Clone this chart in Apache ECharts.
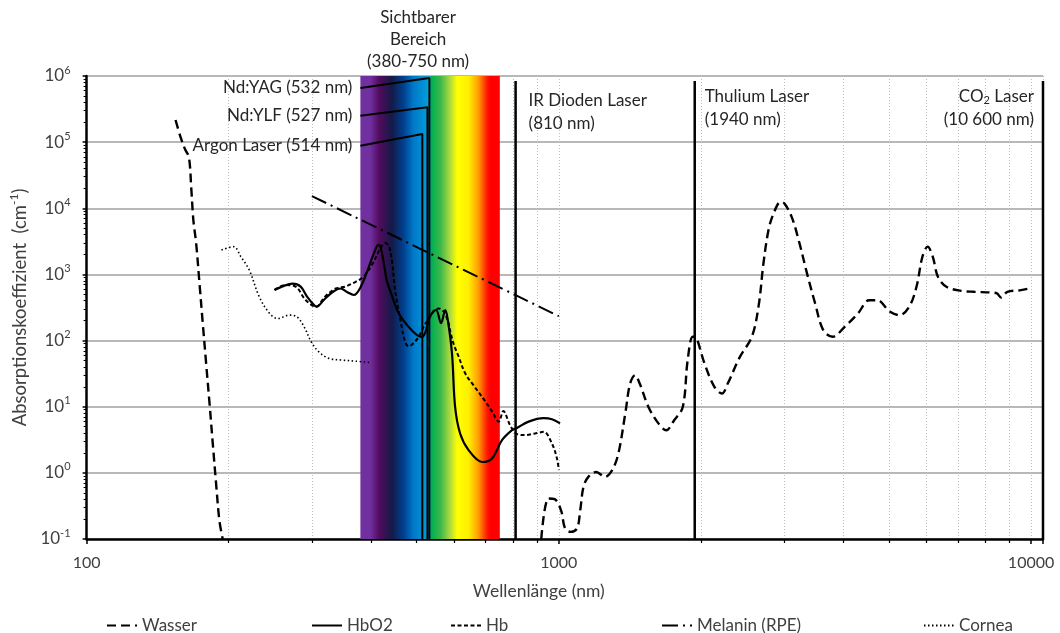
<!DOCTYPE html>
<html>
<head>
<meta charset="utf-8">
<script src="https://cdn.jsdelivr.net/npm/echarts@6/dist/echarts.min.js"></script>
<style>
  html, body { margin: 0; padding: 0; background: #ffffff; }
  #chart { width: 1060px; height: 633px; }
</style>
</head>
<body>
<div id="chart"></div>
<script>
// Absorptionsspektren: Wellenlänge in nm, Absorptionskoeffizient in 1/cm

// Wasser, UV-Ast
const wasserNm1 = [154.3, 158.4, 161.9, 164.7, 166.7, 168.3, 170.6, 173.4, 176.2, 179.1, 182.1, 185, 188, 191.1, 194.2];
const wasserAbs1 = [2.16e5, 1.15e5, 7.6e4, 5.96e4, 1.88e4, 6640, 2980, 738, 183, 45.5, 11.3, 2.8, 0.70, 0.19, 0.1];
// Wasser, IR-Ast
const wasserNm2 = [918, 951, 980, 1011, 1031, 1060, 1093, 1110, 1128, 1155, 1200, 1252, 1297, 1337, 1386, 1415, 1450, 1485, 1548, 1625,
  1689, 1755, 1830, 1874, 1920, 1945, 1965, 2035, 2135, 2215, 2280, 2418, 2563, 2650, 2710, 2780, 2850, 2950, 3005, 3112,
  3220, 3355, 3490, 3630, 3800, 4030, 4300, 4540, 4720, 5030, 5270, 5520, 5720, 5890, 6040, 6190, 6350, 6620, 7110, 7570,
  8230, 8470, 8640, 8910, 9520, 9900];
const wasserAbs2 = [0.1, 0.41, 0.4, 0.27, 0.145, 0.128, 0.145, 0.27, 0.62, 0.87, 1.03, 0.87, 1.1, 1.96, 8.85, 22, 30, 22, 9.9, 5.6,
  4.4, 6.25, 9.9, 50, 114, 114, 102, 45, 20, 15.8, 22.6, 56.7, 114, 340, 1400, 4700, 8350, 12500, 11800, 7420,
  3310, 1030, 363, 144, 114, 161, 257, 408, 408, 272, 242, 324, 650, 1870, 2630, 1870, 925, 650, 565, 546,
  533, 516, 449, 546, 578, 613];

const hbo2Nm = [250, 260, 273, 284, 293, 303, 307, 318, 332, 345, 356, 368, 381, 396, 406, 415, 419, 426, 432, 444,
  458, 481, 501, 514, 522, 530, 542, 550, 563, 575, 582, 594, 603, 618, 644, 688, 722, 758, 796, 812,
  863, 929, 967, 1006];
const hbo2Abs = [581, 660, 725, 655, 463, 345, 325, 411, 542, 613, 542, 489, 655, 1300, 2080, 2790, 2630, 1480, 823, 463,
  258, 160, 121, 114, 135, 204, 276, 290, 183, 290, 204, 63.8, 10, 3.93, 2.21, 1.46, 1.65, 3.13, 4.43, 4.7,
  5.95, 6.7, 6.45, 5.6];

const hbNm = [250, 264, 277, 291, 306, 320, 337, 353, 372, 386, 404, 419, 429, 437, 444, 450, 462, 473, 481, 494,
  505, 517, 539, 556, 570, 582, 590, 600, 612, 634, 660, 699, 722, 746, 763, 788, 812, 847, 890, 929,
  967, 991, 1000];
const hbAbs = [581, 692, 655, 411, 325, 463, 613, 655, 780, 925, 1480, 2490, 2980, 2630, 1480, 581, 204, 94, 82, 94,
  114, 160, 258, 306, 276, 200, 130, 85, 60, 31.6, 21, 12, 8.5, 5.95, 8.6, 5.3, 3.93, 3.72, 3.93, 4.17,
  2.77, 1.65, 1.1];

const melaninNm = [300, 1000];
const melaninAbs = [15300, 234];

const corneaNm = [193, 205, 212, 221, 232, 244, 254, 269, 279, 289, 299, 310, 326, 348, 371, 399];
const corneaAbs = [2340, 2630, 1870, 1170, 463, 258, 215, 243, 228, 160, 96, 68, 53.8, 50.7, 48.8, 46.5];

// Sichtbarer Bereich
const visibleRange = [380, 750];

// Laserlinien: Beschriftungspunkt (Nm, Abs) -> Linie
const ndYagNm = [380, 532, 532];   const ndYagAbs = [6.6e5, 9.3e5, 0.1];
const ndYlfNm = [380, 527, 527];   const ndYlfAbs = [2.5e5, 3.36e5, 0.1];
const argonNm = [380, 514, 514];   const argonAbs = [8.8e4, 1.33e5, 0.1];
const irNm = [810, 810];           const irAbs = [8.4e5, 0.1];
const thuliumNm = [1940, 1940];    const thuliumAbs = [8.4e5, 0.1];
const co2Nm = [10600, 10600];      const co2Abs = [8.4e5, 0.1];

const xTickLabels = [100, 1000, 10000];
const legendNames = ['Wasser', 'HbO2', 'Hb', 'Melanin (RPE)', 'Cornea'];

const FONT = 'Lato, "Open Sans", "DejaVu Sans", sans-serif';
const TEXT = '#404040';
const LABEL = '#262626';

const zip = (xs, ys) => xs.map((x, i) => [x, ys[i]]);

function curve(name, xs, ys, lineStyle) {
  return {
    name, type: 'line', data: zip(xs, ys),
    symbol: 'none', showSymbol: false, smooth: 0.35, z: 4, silent: true,
    lineStyle: Object.assign({ color: '#000', width: 2 }, lineStyle),
    itemStyle: { color: '#000' }
  };
}

function laser(name, xs, ys, width, label) {
  const data = zip(xs, ys).map(v => ({ value: v }));
  data[0].label = Object.assign({
    show: true, color: LABEL, fontFamily: FONT, fontSize: 17, lineHeight: 23
  }, label);
  return {
    name, type: 'line', data,
    symbol: 'circle', symbolSize: 0, showSymbol: true, z: 5, silent: true, clip: false,
    lineStyle: { color: '#000', width },
    itemStyle: { color: '#000' },
    label: { show: false }
  };
}

const spectrum = {
  type: 'linear', x: 0, y: 0, x2: 1, y2: 0,
  colorStops: [
    { offset: 0.00, color: '#7030a0' },
    { offset: 0.07, color: '#7030a0' },
    { offset: 0.135, color: '#520b5e' },
    { offset: 0.225, color: '#141a48' },
    { offset: 0.31, color: '#00408f' },
    { offset: 0.38, color: '#0078c8' },
    { offset: 0.47, color: '#0098d8' },
    { offset: 0.49, color: '#00a8d0' },
    { offset: 0.51, color: '#00b050' },
    { offset: 0.575, color: '#3cb84a' },
    { offset: 0.64, color: '#a8d840' },
    { offset: 0.695, color: '#ffff00' },
    { offset: 0.775, color: '#fff000' },
    { offset: 0.845, color: '#ffa000' },
    { offset: 0.905, color: '#ff2000' },
    { offset: 0.93, color: '#ff0000' },
    { offset: 1.00, color: '#ff0000' }
  ]
};

const legendPos = [101, 306, 445, 656, 918];
const legends = legendNames.map((n, i) => ({
  data: [n], left: legendPos[i], top: 612, orient: 'horizontal',
  itemWidth: 30, itemHeight: 14, selectedMode: false,
  itemStyle: { opacity: 0 },
  textStyle: { fontFamily: FONT, fontSize: 17, color: TEXT }
}));

const chart = echarts.init(document.getElementById('chart'));
chart.setOption({
  animation: false,
  backgroundColor: '#ffffff',
  textStyle: { fontFamily: FONT },
  grid: { left: 83, right: 17, top: 76, bottom: 94, containLabel: false },
  legend: legends,
  xAxis: {
    type: 'log', logBase: 10, min: 100, max: 10600,
    name: 'Wellenlänge (nm)', nameLocation: 'middle', nameGap: 43,
    nameTextStyle: { fontFamily: FONT, fontSize: 17.5, color: TEXT, padding: [0, 52, 0, 0] },
    axisLine: { show: true, onZero: false, lineStyle: { color: '#000', width: 2.5 } },
    axisTick: { show: true, length: 5, lineStyle: { color: '#000', width: 1.5 } },
    minorTick: { show: true, splitNumber: 9, length: 4, lineStyle: { color: '#000', width: 1.2 } },
    splitLine: { show: true, lineStyle: { color: '#bdbdbd', width: 1, type: [1, 2] } },
    minorSplitLine: { show: true, lineStyle: { color: '#bdbdbd', width: 1, type: [1, 2] } },
    axisLabel: {
      margin: 16, fontFamily: FONT, fontSize: 16, color: TEXT,
      formatter: v => xTickLabels.includes(Math.round(v)) ? String(Math.round(v)) : ''
    }
  },
  yAxis: {
    type: 'log', logBase: 10, min: 0.1, max: 1e6,
    name: 'Absorptionskoeffizient  (cm{sup|-1})', nameLocation: 'middle', nameGap: 51, nameRotate: 90,
    nameTextStyle: {
      fontFamily: FONT, fontSize: 18.5, color: TEXT,
      rich: { sup: { fontFamily: FONT, fontSize: 12, color: TEXT, padding: [0, 0, 12, 0] } }
    },
    axisLine: { show: true, lineStyle: { color: '#000', width: 2.5 } },
    axisTick: { show: true, length: 4, lineStyle: { color: '#000', width: 1.5 } },
    minorTick: { show: true, splitNumber: 9, length: 3, lineStyle: { color: '#000', width: 1 } },
    splitLine: { show: true, lineStyle: { color: '#a0a0a0', width: 1.5 } },
    axisLabel: {
      margin: 16, color: TEXT,
      formatter: v => '{b|10}{s|' + Math.round(Math.log10(v)) + '}',
      rich: {
        b: { fontFamily: FONT, fontSize: 17, color: TEXT },
        s: { fontFamily: FONT, fontSize: 11, color: TEXT, padding: [0, 0, 12, 0] }
      }
    }
  },
  series: [
    {
      name: 'Sichtbarer Bereich', type: 'line', data: [], z: 1, silent: true,
      markArea: {
        silent: true,
        itemStyle: { color: spectrum, opacity: 1 },
        label: {
          show: true, position: 'top', distance: 3, offset: [-12, 0],
          formatter: 'Sichtbarer\nBereich\n(380-750 nm)',
          fontFamily: FONT, fontSize: 17, lineHeight: 22, color: LABEL
        },
        data: [[{ xAxis: visibleRange[0] }, { xAxis: visibleRange[1] }]]
      }
    },
    curve('Wasser', wasserNm1, wasserAbs1, { width: 2.4, type: [9, 5] }),
    curve('Wasser', wasserNm2, wasserAbs2, { width: 2.4, type: [9, 5] }),
    curve('HbO2', hbo2Nm, hbo2Abs, { width: 2.2 }),
    curve('Hb', hbNm, hbAbs, { width: 2, type: [4, 2.5] }),
    curve('Melanin (RPE)', melaninNm, melaninAbs, { width: 2, type: [16, 5, 2, 5] }),
    curve('Cornea', corneaNm, corneaAbs, { width: 1.6, type: [1.5, 2.5] }),
    laser('Nd:YAG', ndYagNm, ndYagAbs, 2, { position: 'left', distance: 8, formatter: 'Nd:YAG (532 nm)' }),
    laser('Nd:YLF', ndYlfNm, ndYlfAbs, 2, { position: 'left', distance: 8, formatter: 'Nd:YLF (527 nm)' }),
    laser('Argon', argonNm, argonAbs, 2, { position: 'left', distance: 8, formatter: 'Argon Laser (514 nm)' }),
    laser('IR Dioden Laser', irNm, irAbs, 2.5, {
      position: [13, 8], align: 'left', verticalAlign: 'top', formatter: 'IR Dioden Laser\n(810 nm)'
    }),
    laser('Thulium Laser', thuliumNm, thuliumAbs, 2.5, {
      position: [10, 4], align: 'left', verticalAlign: 'top', formatter: 'Thulium Laser\n(1940 nm)'
    }),
    laser('CO2 Laser', co2Nm, co2Abs, 2.5, {
      position: [-9, 4], align: 'right', verticalAlign: 'top',
      formatter: '{n|CO}{sub|2}{n| Laser}\n{n|(10 600 nm)}',
      rich: {
        n: { align: 'right', fontFamily: FONT, fontSize: 17, lineHeight: 23, color: LABEL },
        sub: { align: 'right', fontFamily: FONT, fontSize: 11, lineHeight: 23, color: LABEL, padding: [8, 0, 0, 0] }
      }
    })
  ]
});
</script>
</body>
</html>
